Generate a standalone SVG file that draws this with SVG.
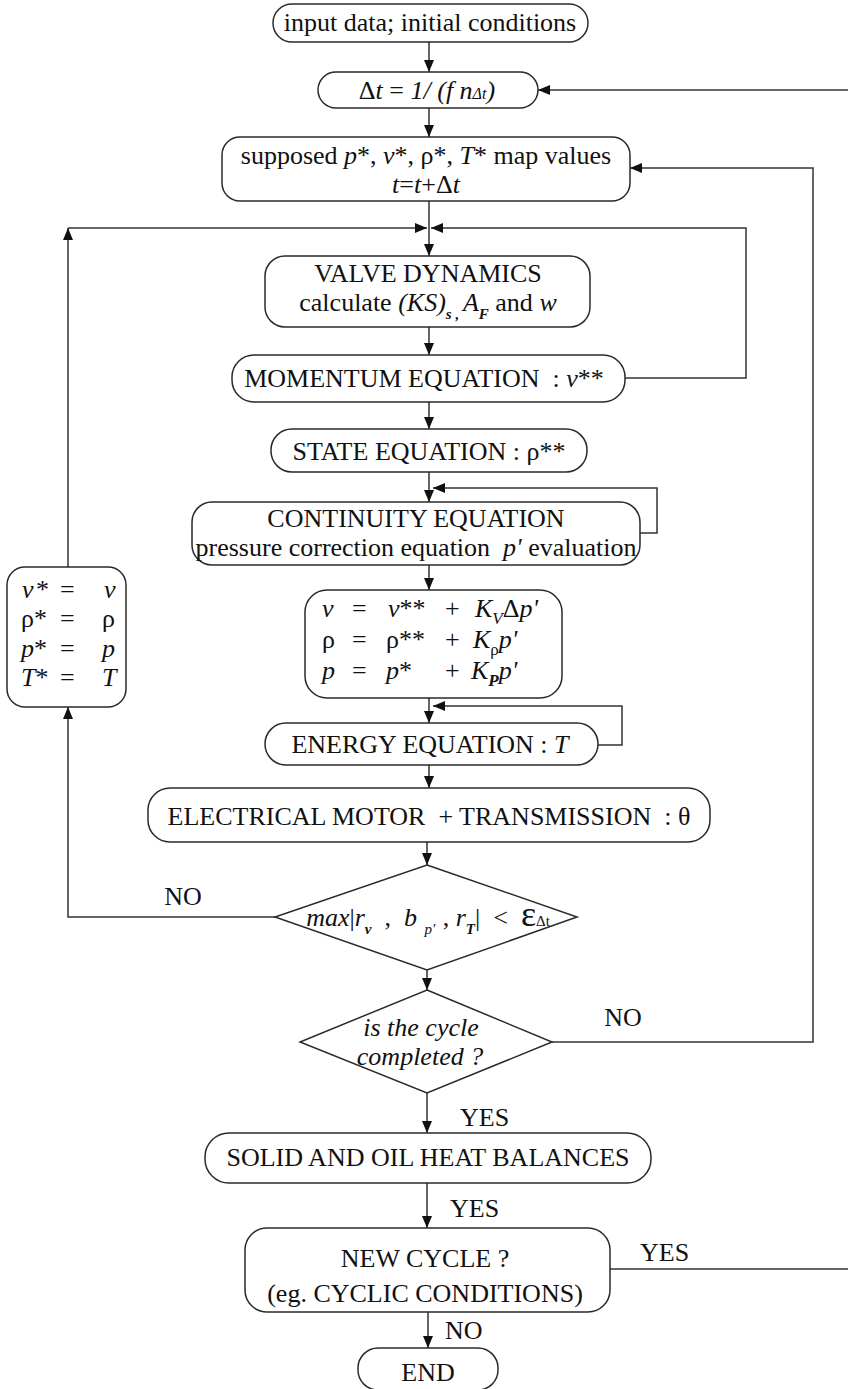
<svg xmlns="http://www.w3.org/2000/svg" width="848" height="1389" viewBox="0 0 848 1389">
<style>
.box{fill:#fff;stroke:#2a2a2a;stroke-width:1.5}
.ln{fill:none;stroke:#333;stroke-width:1.5}
text{font-family:"Liberation Serif","Times New Roman",serif;font-size:26px;fill:#111;white-space:pre}
.c{text-anchor:middle}
.i{font-style:italic}
.s{font-size:15px}
</style>
<defs>
<marker id="ah" viewBox="0 0 12 10" refX="12" refY="5" markerWidth="12" markerHeight="10" markerUnits="userSpaceOnUse" orient="auto"><path d="M0,0 L12,5 L0,10 z" fill="#111"/></marker>
</defs>
<rect width="848" height="1389" fill="#fff"/>
<g id="connectors">
<path class="ln" d="M429,42 V72" marker-end="url(#ah)"/>
<path class="ln" d="M848,90 H538" marker-end="url(#ah)"/>
<path class="ln" d="M429,108 V137" marker-end="url(#ah)"/>
<path class="ln" d="M552,1042 H813 V168 H630" marker-end="url(#ah)"/>
<path class="ln" d="M429,201 V256" marker-end="url(#ah)"/>
<path class="ln" d="M68,567 V228" marker-end="url(#ah)"/>
<path class="ln" d="M68,228 H427" marker-end="url(#ah)"/>
<path class="ln" d="M625,378 H746 V228 H431" marker-end="url(#ah)"/>
<path class="ln" d="M429,327 V355" marker-end="url(#ah)"/>
<path class="ln" d="M429,402 V429" marker-end="url(#ah)"/>
<path class="ln" d="M429,472 V502" marker-end="url(#ah)"/>
<path class="ln" d="M640,533 H657 V488 H433" marker-end="url(#ah)"/>
<path class="ln" d="M429,565 V590" marker-end="url(#ah)"/>
<path class="ln" d="M429,698 V723" marker-end="url(#ah)"/>
<path class="ln" d="M598,745 H622 V706 H433" marker-end="url(#ah)"/>
<path class="ln" d="M429,765 V788" marker-end="url(#ah)"/>
<path class="ln" d="M427,842 V865" marker-end="url(#ah)"/>
<path class="ln" d="M275,917 H68 V707" marker-end="url(#ah)"/>
<path class="ln" d="M427,970 V990" marker-end="url(#ah)"/>
<path class="ln" d="M427,1093 V1133" marker-end="url(#ah)"/>
<path class="ln" d="M427,1183 V1228" marker-end="url(#ah)"/>
<path class="ln" d="M610,1269 H848"/>
<path class="ln" d="M428,1312 V1348" marker-end="url(#ah)"/>
<text x="183" y="905" class="c">NO</text>
<text x="623" y="1026" class="c">NO</text>
<text x="460" y="1126">YES</text>
<text x="450" y="1217">YES</text>
<text x="640" y="1261">YES</text>
<text x="445" y="1339">NO</text>
</g>
<g id="n-input">
<rect class="box" x="273" y="4" width="315" height="38" rx="19"/>
<text x="430" y="31" class="c">input data; initial conditions</text>
</g>
<g id="n-dt">
<rect class="box" x="318" y="72" width="220" height="36" rx="18"/>
<text x="427" y="99" class="c" font-size="27">Δ<tspan class="i">t</tspan> = <tspan class="i">1/ (f n</tspan><tspan class="i" font-size="16">Δt</tspan><tspan class="i">)</tspan></text>
</g>
<g id="n-supposed">
<rect class="box" x="222" y="137" width="408" height="64" rx="18"/>
<text x="426" y="164" class="c">supposed <tspan class="i">p</tspan>*, <tspan class="i">v</tspan>*, ρ*, <tspan class="i">T</tspan>* map values</text>
<text x="426" y="193" class="c"><tspan class="i">t</tspan>=<tspan class="i">t</tspan>+Δ<tspan class="i">t</tspan></text>
</g>
<g id="n-valve">
<rect class="box" x="265" y="256" width="325" height="71" rx="20"/>
<text x="428" y="282" class="c">VALVE DYNAMICS</text>
<text x="428" y="311" class="c">calculate <tspan class="i">(KS)</tspan><tspan class="i s" font-weight="bold" dy="8">s , </tspan><tspan class="i" dy="-8">A</tspan><tspan class="i s" font-weight="bold" dy="8">F</tspan><tspan dy="-8"> and </tspan><tspan class="i">w</tspan></text>
</g>
<g id="n-momentum">
<rect class="box" x="232" y="355" width="393" height="47" rx="22"/>
<text x="424" y="387" class="c">MOMENTUM EQUATION  : <tspan class="i">v</tspan>**</text>
</g>
<g id="n-state">
<rect class="box" x="271" y="429" width="316" height="43" rx="21"/>
<text x="429" y="460" class="c">STATE EQUATION : ρ**</text>
</g>
<g id="n-continuity">
<rect class="box" x="192" y="502" width="448" height="63" rx="20"/>
<text x="416" y="527" class="c">CONTINUITY EQUATION</text>
<text x="416" y="556" class="c">pressure correction equation  <tspan class="i">p'</tspan> evaluation</text>
</g>
<g id="n-update">
<rect class="box" x="305" y="590" width="257" height="108" rx="22"/>
<text y="617"><tspan x="322" class="i">v</tspan><tspan x="352">=</tspan><tspan x="388" class="i">v</tspan><tspan>**</tspan><tspan x="445">+</tspan><tspan x="475" class="i">K</tspan><tspan class="i" font-size="17" dy="7">V</tspan><tspan dy="-7">Δ</tspan><tspan class="i">p'</tspan></text>
<text y="648"><tspan x="322">ρ</tspan><tspan x="352">=</tspan><tspan x="386">ρ**</tspan><tspan x="445">+</tspan><tspan x="473" class="i">K</tspan><tspan font-size="17" dy="7">ρ</tspan><tspan class="i" dy="-7">p'</tspan></text>
<text y="679"><tspan x="322" class="i">p</tspan><tspan x="352">=</tspan><tspan x="386" class="i">p</tspan><tspan>*</tspan><tspan x="445">+</tspan><tspan x="471" class="i">K</tspan><tspan class="i" font-size="17" font-weight="bold" dy="7">P</tspan><tspan class="i" dy="-7">p'</tspan></text>
</g>
<g id="n-reset">
<rect class="box" x="7" y="567" width="119" height="140" rx="18"/>
<text y="598"><tspan x="22" class="i">v</tspan><tspan x="36">*</tspan><tspan x="60">=</tspan><tspan x="104" class="i">v</tspan></text>
<text y="627"><tspan x="21">ρ*</tspan><tspan x="60">=</tspan><tspan x="102">ρ</tspan></text>
<text y="657"><tspan x="21" class="i">p</tspan><tspan>*</tspan><tspan x="60">=</tspan><tspan x="102" class="i">p</tspan></text>
<text y="686"><tspan x="21" class="i">T</tspan><tspan>*</tspan><tspan x="60">=</tspan><tspan x="102" class="i">T</tspan></text>
</g>
<g id="n-energy">
<rect class="box" x="265" y="723" width="333" height="42" rx="21"/>
<text x="430" y="753" class="c">ENERGY EQUATION : <tspan class="i">T</tspan></text>
</g>
<g id="n-motor">
<rect class="box" x="148" y="788" width="562" height="54" rx="22"/>
<text x="429" y="825" class="c">ELECTRICAL MOTOR  + TRANSMISSION  : θ</text>
</g>
<g id="n-conv">
<polygon class="box" points="427,865 577,917 427,970 275,917"/>
<text x="428" y="926" class="c" font-size="28"><tspan class="i">max</tspan>|<tspan class="i">r</tspan><tspan class="i s" font-weight="bold" dy="8">v</tspan><tspan dy="-8">  ,  </tspan><tspan class="i">b</tspan><tspan class="i s" dy="8">  p'  </tspan><tspan dy="-8">, </tspan><tspan class="i">r</tspan><tspan class="i s" font-weight="bold" dy="8">T</tspan><tspan dy="-8">|  &lt;  </tspan><tspan font-size="36">ε</tspan><tspan class="s">Δt</tspan></text>
</g>
<g id="n-cycle">
<polygon class="box" points="427,990 552,1042 427,1093 300,1042"/>
<text x="421" y="1036" class="c i">is the cycle</text>
<text x="420" y="1065" class="c i">completed ?</text>
</g>
<g id="n-heat">
<rect class="box" x="205" y="1133" width="446" height="50" rx="24"/>
<text x="428" y="1166" class="c">SOLID AND OIL HEAT BALANCES</text>
</g>
<g id="n-newcycle">
<rect class="box" x="245" y="1228" width="365" height="84" rx="22"/>
<text x="425" y="1267" class="c">NEW CYCLE ?</text>
<text x="425" y="1302" class="c">(eg. CYCLIC CONDITIONS)</text>
</g>
<g id="n-end">
<rect class="box" x="358" y="1348" width="140" height="42" rx="20"/>
<text x="428" y="1381" class="c">END</text>
</g>
</svg>
